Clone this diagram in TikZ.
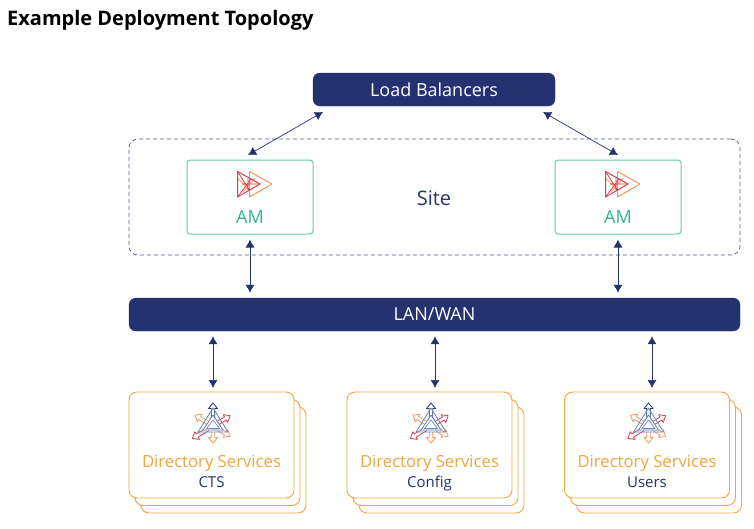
\documentclass[tikz,border=0pt]{standalone}
\usepackage{fontspec}
\setmainfont{Open Sans}
\usetikzlibrary{arrows.meta,calc}
\definecolor{navy}{HTML}{24336F}
\definecolor{grn}{HTML}{2DB98C}
\definecolor{grnline}{HTML}{5FCFA8}
\definecolor{org}{HTML}{F0A63C}
\definecolor{redc}{HTML}{D8404F}
\definecolor{orc}{HTML}{F5975A}
\definecolor{blu}{HTML}{5B8CC8}
\tikzset{
  bar/.style={draw=navy,fill=navy,rounded corners=7pt,text=white,inner sep=0pt,font=\fontsize{18}{20}\selectfont},
  ambox/.style={draw=grnline,fill=white,rounded corners=3pt,line width=1pt,minimum width=126pt,minimum height=74pt,inner sep=0pt},
  dsbox/.style={draw=org,fill=white,rounded corners=8pt,line width=.9pt,minimum width=165pt,minimum height=106pt,inner sep=0pt},
  sitebox/.style={draw=navy!80,dashed,dash pattern=on 4pt off 3pt,rounded corners=9pt,line width=.7pt,minimum width=611pt,minimum height=116pt,inner sep=0pt},
  arr/.style={draw=navy,line width=.7pt,{Latex[length=8pt,width=9pt]}-{Latex[length=8pt,width=9pt]},shorten <=5pt,shorten >=5pt},
  amlabel/.style={text=grn,font=\fontsize{18}{20}\selectfont,anchor=base},
  dslabel/.style={text=org,font=\fontsize{16.7}{20}\selectfont,anchor=base},
  sublabel/.style={text=navy,font=\fontsize{15}{18}\selectfont,anchor=base},
  pics/amicon/.style={code={
    \draw[orc,line width=1pt,line join=round] (-.5,-12.5) -- (-.5,13) -- (22,0) -- cycle;
    \draw[orc,line width=.8pt] (-12.5,-6) -- (-1,6) (-7,8) -- (5,-6);
    \draw[redc,line width=1pt,line join=round] (-12.5,-12.5) -- (-12.5,13) -- (10,0) -- cycle;
    \draw[redc,line width=.8pt] (-12.5,-12.5) -- (-.5,6) (-12.5,13) -- (1,-5) (-8,0) -- (10,0) (-2,-6) -- (-2,7);
  }},
  pics/dsicon/.style={code={
    \foreach \a/\r/\c in {90/23/navy,31/20/redc,149/21/orc,-31/20/orc,-90/17/orc,-149/24/redc}{
      \begin{scope}[rotate=\a]
        \draw[\c,line width=.8pt,line join=round,fill=white] (6,-1.8) -- (\r-5.5,-1.8) -- (\r-5.5,-4.5) -- (\r,0) -- (\r-5.5,4.5) -- (\r-5.5,1.8) -- (6,1.8);
      \end{scope}
    }
    \draw[blu,line width=.8pt,line join=round] (0,-18) -- (15,6) -- (-15,6) -- cycle;
    \draw[navy!70,line width=.7pt,line join=round,fill=white] (0,-11) -- (10,4) -- (-10,4) -- cycle;
    \draw[blu,line width=.7pt,line join=round] (0,-6) -- (6.5,2.5) -- (-6.5,2.5) -- cycle;
  }}
}
\begin{document}
\begin{tikzpicture}[x=1pt,y=-1pt]
\useasboundingbox[fill=white] (0,0) rectangle (754,528);
\node[anchor=west,inner sep=0pt,font=\bfseries\fontsize{20}{22}\selectfont,text=black] (title) at (7,20) {Example Deployment Topology};

\node[bar,minimum width=242pt,minimum height=33pt] (lb) at (434,89.5) {\raisebox{-1pt}{Load Balancers}};
\node[sitebox] (site) at (434.5,197) {};
\node[text=navy,font=\fontsize{20}{22}\selectfont] (sitelabel) at (434,198) {Site};

\node[ambox] (am1) at (250,197) {};
\node[ambox] (am2) at (618,197) {};
\pic at (250,184) {amicon};
\pic at (618,184) {amicon};
\node[amlabel] (am1t) at (250,223) {AM};
\node[amlabel] (am2t) at (618,223) {AM};

\node[bar,minimum width=611pt,minimum height=33pt] (lan) at (434.5,314.5) {\raisebox{-1.5pt}{LAN/WAN}};

\foreach \n/\x/\s in {a/211.5/CTS,b/429.5/Config,c/647/Users}{
  \node[dsbox] (\n3) at (\x+12,460) {};
  \node[dsbox] (\n2) at (\x+6,452.5) {};
  \node[dsbox] (\n1) at (\x,445) {};
  \pic at (\x+1.5,426) {dsicon};
  \node[dslabel] (\n t) at (\x,467) {Directory Services};
  \node[sublabel] (\n s) at (\x,487.5) {\s};
}

\coordinate (lbl) at (327.3,109.5);
\coordinate (lbr) at (538.7,109.5);
\coordinate (am1c) at (243.7,157.5);
\coordinate (am2c) at (622.3,157.5);
\draw[arr] (lbl) -- (am1c);
\draw[arr] (lbr) -- (am2c);
\draw[arr] (am1.south) -- (am1.south |- lan.north);
\draw[arr] (am2.south) -- (am2.south |- lan.north);
\coordinate (ta) at (213,393);
\coordinate (tb) at (435,393);
\coordinate (tc) at (652,393);
\draw[arr] (ta |- lan.south) -- (ta);
\draw[arr] (tb |- lan.south) -- (tb);
\draw[arr] (tc |- lan.south) -- (tc);
\end{tikzpicture}
\end{document}
